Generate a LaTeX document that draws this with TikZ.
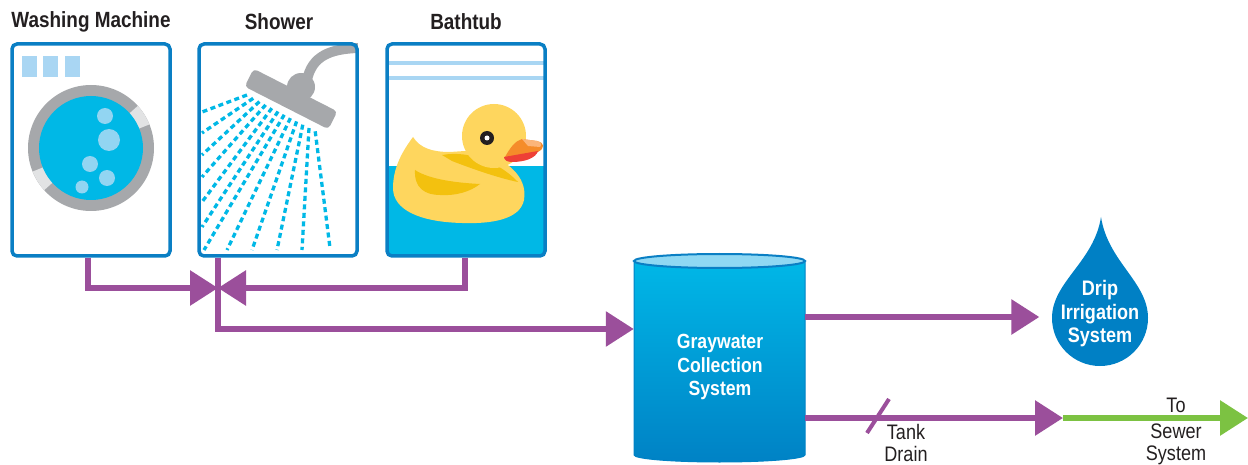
\documentclass[tikz,border=0pt]{standalone}
\usepackage{fontspec}
\setmainfont{Liberation Sans}[FakeStretch=0.86]
\usetikzlibrary{arrows.meta}

\definecolor{boxblue}{HTML}{0A7FC4}
\definecolor{lightblue}{HTML}{A9D6F3}
\definecolor{water}{HTML}{00B8E6}
\definecolor{drumgray}{HTML}{A6A8AB}
\definecolor{rimgray}{HTML}{E2E3E4}
\definecolor{bubble}{HTML}{92D5F2}
\definecolor{pipecol}{HTML}{9B4F9B}
\definecolor{sewergreen}{HTML}{7CC242}
\definecolor{duckyellow}{HTML}{FED65E}
\definecolor{duckwing}{HTML}{F3C10F}
\definecolor{beak}{HTML}{F58C2A}
\definecolor{beaklight}{HTML}{FBB57A}
\definecolor{beakred}{HTML}{EE4036}
\definecolor{tanktop}{HTML}{00B7E7}
\definecolor{tankbottom}{HTML}{0082C5}
\definecolor{tanklid}{HTML}{8FD8F3}
\definecolor{dropblue}{HTML}{0080C5}
\definecolor{ink}{HTML}{231F20}

\tikzset{appbox/.style = {draw=boxblue, line width=3.5pt, rounded corners=5pt,
                          minimum width=158pt, minimum height=212pt, inner sep=0}}
\tikzset{title/.style = {font=\fontsize{22}{24}\selectfont\bfseries, text=ink}}
\tikzset{pipe/.style = {draw=pipecol, line width=6pt}}
\tikzset{flow/.style = {pipe, -{Triangle[length=28pt, width=34pt]}}}
\tikzset{spray/.style = {draw=water, line width=3.3pt, dash pattern=on 5pt off 3.5pt}}
\tikzset{whitetext/.style = {text=white, align=center,
                             font=\fontsize{20.5}{23.5}\selectfont\bfseries}}
\tikzset{note/.style = {text=ink, align=center, font=\fontsize{21}{22}\selectfont}}

\begin{document}
\begin{tikzpicture}[x=1pt, y=-1pt]
    \useasboundingbox (0,0) rectangle (1248,465);

    % washing machine
    \foreach \sx in {22, 43, 65}
      \fill[lightblue] (\sx,56) rectangle ++(15,21);
    \fill[drumgray] (91,148) circle[radius=63];
    \fill[rimgray] (91,148) -- ++(-22:63) arc[start angle=-22, end angle=-42, radius=63] -- cycle;
    \fill[rimgray] (91,148) -- ++(138:63) arc[start angle=138, end angle=158, radius=63] -- cycle;
    \fill[water] (91,148) circle[radius=52];
    \fill[bubble] (105,116) circle[radius=8];
    \fill[bubble] (109,140) circle[radius=11];
    \fill[bubble] (90,164) circle[radius=8];
    \fill[bubble] (107,178) circle[radius=8];
    \fill[bubble] (82,187) circle[radius=6.5];

    % shower head and spray
    \draw[drumgray, line width=10pt] (307,80) .. controls (312,56) and (330,49) .. (358,48);
    \fill[drumgray] (301,87) circle[radius=14];
    \begin{scope}[shift={(291,99)}, rotate=-27]
      \fill[drumgray, rounded corners=4pt] (-47,-10) rectangle (47,10);
    \end{scope}
    \foreach \ex/\ey [count=\i from 0] in {202/112, 202/133, 202/155, 202/177, 202/202, 202/227,
                                          204/250, 227/250, 252/250, 277/250, 302/250, 330/248}
      \draw[spray] ({247+6.2*\i},{95+3.3*\i}) -- (\ex,\ey);

    % bathtub with duck
    \fill[water] (387,166) rectangle (545,256);
    \draw[lightblue, line width=4pt] (387,63) -- (545,63);
    \draw[lightblue, line width=4pt] (387,78) -- (545,78);
    \fill[duckyellow] (413,137) .. controls (420,148) and (432,152) .. (450,152) -- (480,150)
      .. controls (505,160) and (528,175) .. (524,200) .. controls (520,220) and (490,224) .. (462,223)
      .. controls (420,222) and (393,210) .. (393,188) .. controls (393,165) and (405,148) .. (413,137) -- cycle;
    \fill[duckwing] (442,155) .. controls (470,150) and (500,163) .. (518,182)
      .. controls (498,178) and (470,168) .. (452,161) -- cycle;
    \fill[duckwing] (415,170) .. controls (430,180) and (460,183) .. (480,184)
      .. controls (470,192) and (455,196) .. (440,195) .. controls (425,195) and (414,188) .. (415,170) -- cycle;
    \fill[duckyellow] (494,136) circle[radius=32];
    \fill[beak] (505,157) .. controls (510,148) and (515,141) .. (522,139) -- (537,141)
      .. controls (545,143) and (545,148) .. (538,152) -- (510,160) -- cycle;
    \fill[beaklight] (522,139) -- (537,141) .. controls (541,142) and (542,145) .. (540,147) -- (528,146) -- cycle;
    \fill[beakred] (504,157) -- (538,151) .. controls (536,158) and (525,162) .. (512,162)
      .. controls (507,162) and (504,160) .. (504,157) -- cycle;
    \fill[ink] (487,138) circle[radius=7];
    \fill[white] (487,138) circle[radius=2.5];

    % the three sources
    \node[appbox] (washer) at (91,150) {};
    \node[appbox] (shower) at (278,150) {};
    \node[appbox] (bathtub) at (466,150) {};
    \node[title] (washertitle) at (91,22) {Washing Machine};
    \node[title] (showertitle) at (279,22) {Shower};
    \node[title] (bathtitle) at (466,22) {Bathtub};

    % collection tank
    \shade[top color=tanktop, bottom color=tankbottom, draw=tankbottom, line width=1pt]
      (634,261) -- (634,455) arc[start angle=180, end angle=0, x radius=85.5, y radius=7]
      -- (805,261) -- cycle;
    \filldraw[fill=tanklid, draw=boxblue, line width=2pt] (719.5,261) ellipse[x radius=85.5, y radius=7];
    \node[minimum width=171pt, minimum height=194pt, inner sep=0] (tank) at (719.5,358) {};
    \node[whitetext] (tanklabel) at (720,367) {Graywater\\Collection\\System};

    % drip irrigation drop
    \fill[dropblue] (1101,217) .. controls (1094,262) and (1052,282) .. (1052,318)
      arc[start angle=180, end angle=0, radius=48] .. controls (1148,282) and (1108,262) .. cycle;
    \node[whitetext, font=\fontsize{21}{23.5}\selectfont\bfseries] (drip) at (1100,314)
      {Drip\\Irrigation\\System};

    % pipes
    \coordinate (junction) at (218,288);
    \coordinate (drain) at (1063,418);
    \coordinate (sewer) at (1248,418);
    \draw[flow] ([xshift=-3pt]washer.south) |- (junction);
    \draw[flow] ([xshift=-1pt]bathtub.south) |- (junction);
    \draw[flow] (shower.south -| junction) |- ([yshift=29pt]tank.west);
    \draw[flow] ([yshift=-3pt]tank.east |- drip) -- ([xshift=-18pt, yshift=-3pt]drip.west);
    \draw[flow, draw=sewergreen] (drain) -- (sewer);
    \draw[flow] (tank.east |- drain) -- (drain);
    \draw[pipecol, line width=4pt] (867,433) -- (889,399);
    \node[note] (tankdrain) at (906,443) {Tank\\Drain};
    \node[note] (tosewer) at (1176,431) {To\\[4pt]Sewer\\System};
\end{tikzpicture}
\end{document}
